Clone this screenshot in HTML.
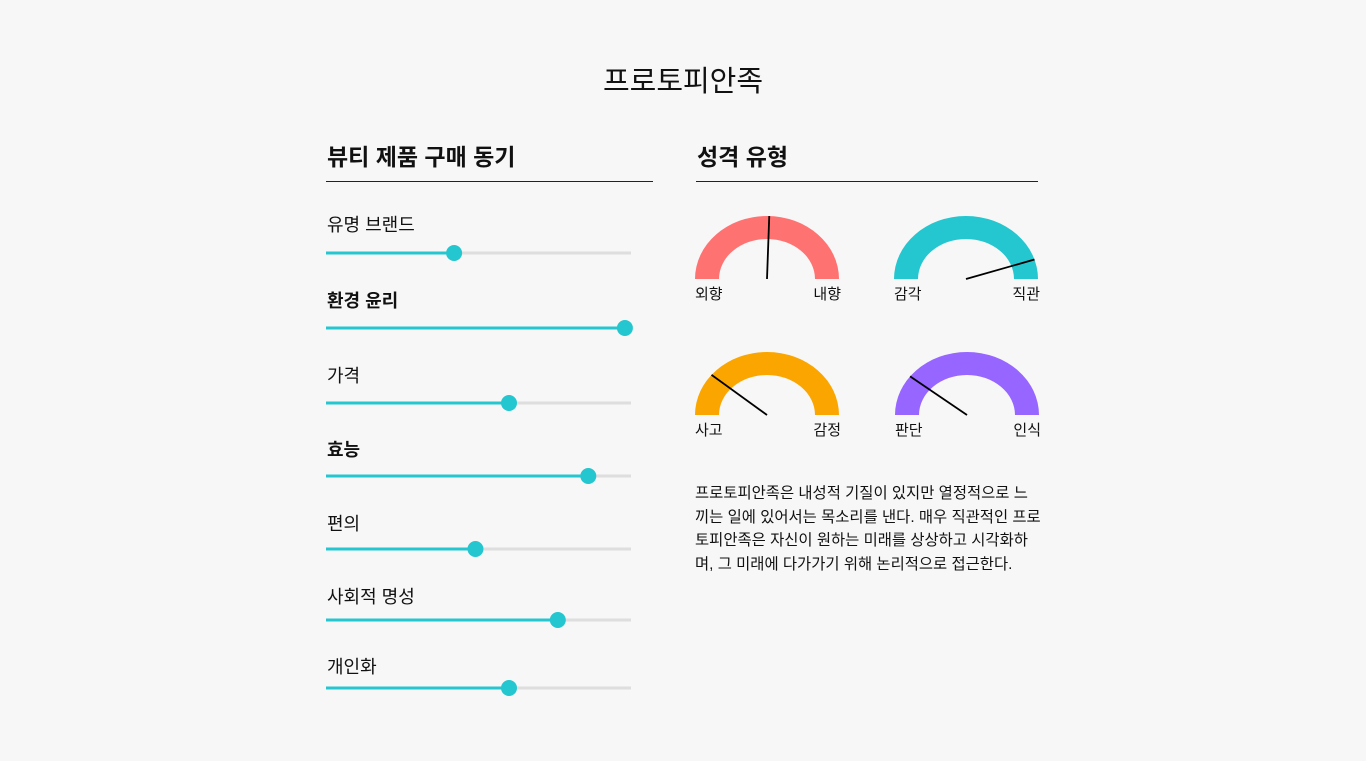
<!DOCTYPE html>
<html><head><meta charset="utf-8">
<style>
body{margin:0;width:1366px;height:761px;background:#f7f7f7;font-family:"Liberation Sans","Noto Sans CJK KR",sans-serif;color:#111;position:relative;overflow:hidden}
.t{position:absolute;white-space:nowrap;line-height:1}
</style></head><body>
<div class="t" style="left:0;width:1366px;text-align:center;top:68px;font-size:29px">프로토피안족</div>
<div class="t" style="left:327px;top:146px;font-size:23px;font-weight:bold">뷰티 제품 구매 동기</div>
<div style="position:absolute;left:326px;top:181px;width:327px;height:1px;background:#222"></div>
<div class="t" style="left:697px;top:146px;font-size:23px;font-weight:bold">성격 유형</div>
<div style="position:absolute;left:696px;top:181px;width:342px;height:1px;background:#222"></div>
<div class="t" style="left:695px;top:482px;font-size:15.4px;line-height:23.6px">프로토피안족은 내성적 기질이 있지만 열정적으로 느<br>끼는 일에 있어서는 목소리를 낸다. 매우 직관적인 프로<br>토피안족은 자신이 원하는 미래를 상상하고 시각화하<br>며, 그 미래에 다가가기 위해 논리적으로 접근한다.</div>
<svg id="chart" width="1366" height="761" style="position:absolute;left:0;top:0"></svg>
<script>
const sliderLabels=["유명 브랜드","환경 윤리","가격","효능","편의","사회적 명성","개인화"];
const sliderValues=[0.42,0.98,0.60,0.86,0.49,0.76,0.60];
const sliderBold=[false,true,false,true,false,false,false];
const gaugeLeft=["외향","감각","사고","판단"];
const gaugeRight=["내향","직관","감정","인식"];
const gaugeValues=[0.51,0.90,0.22,0.21];
const gaugeColors=["#ff7272","#24c6cf","#fba600","#9765ff"];

const NS="http://www.w3.org/2000/svg";
const svg=document.getElementById('chart');
function mk(tag,attrs,parent){const e=document.createElementNS(NS,tag);for(const k in attrs)e.setAttribute(k,attrs[k]);(parent||svg).appendChild(e);return e;}
const trackX0=326,trackX1=631;
const rowTop=[253,328,403,476,549,620,688];
const labelBase=[231,307,382,456,530,603,673];
const xScale=v=>trackX0+v*(trackX1-trackX0);
sliderLabels.forEach((lab,i)=>{
  const y=rowTop[i];
  const t=mk('text',{x:327,y:labelBase[i],'font-size':18,'font-weight':sliderBold[i]?'bold':'normal',fill:'#111','font-family':'Liberation Sans, Noto Sans CJK KR, sans-serif'});
  t.textContent=lab;
  
  
  const tr=mk('line',{x1:trackX0,x2:trackX1,y1:y,y2:y,stroke:'#dedede','stroke-width':3});
  
  
  const tx=xScale(sliderValues[i]);
  const f=mk('line',{x1:trackX0,x2:tx,y1:y,y2:y,stroke:'#24c6cf','stroke-width':3});
  
  
  const th=mk('circle',{cx:tx,cy:y,r:8,fill:'#24c6cf'});
  
  
});
const gc=[[767,279],[966,279],[767,415],[967,415]];
const rx=72,ry=63,irx=48,iry=40;
gaugeValues.forEach((v,i)=>{
  const [cx,cy]=gc[i];
  const d=`M${cx-rx},${cy} A${rx},${ry} 0 0 1 ${cx+rx},${cy} L${cx+irx},${cy} A${irx},${iry} 0 0 0 ${cx-irx},${cy} Z`;
  const p=mk('path',{d:d,fill:gaugeColors[i]});
  
  
  const a=Math.PI*v;
  const n=mk('line',{x1:cx,y1:cy,x2:cx-Math.cos(a)*rx,y2:cy-Math.sin(a)*ry,stroke:'#000','stroke-width':1.8});
  
  
  const l=mk('text',{x:cx-rx,y:cy+20,'font-size':15,fill:'#111','font-family':'Liberation Sans, Noto Sans CJK KR, sans-serif'});
  l.textContent=gaugeLeft[i];
  
  
  const r=mk('text',{x:cx+rx+2,y:cy+20,'font-size':15,'text-anchor':'end',fill:'#111','font-family':'Liberation Sans, Noto Sans CJK KR, sans-serif'});
  r.textContent=gaugeRight[i];
  
  
});
</script>
</body></html>
